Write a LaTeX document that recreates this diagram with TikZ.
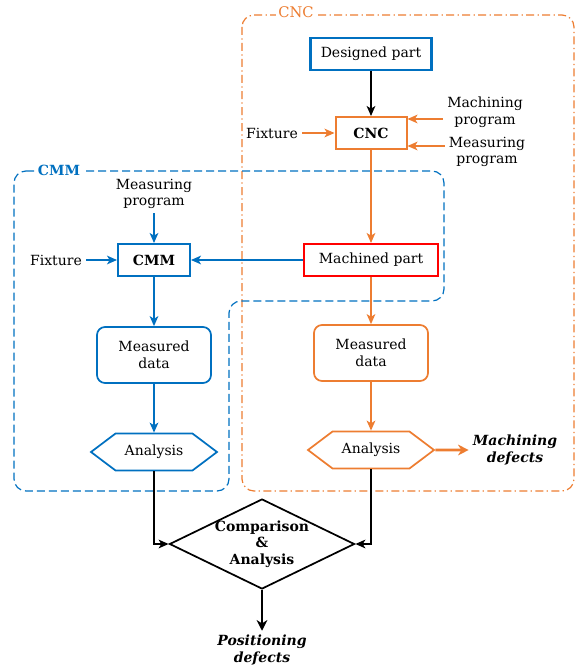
\documentclass[tikz,border=0pt]{standalone}
\usepackage{fontspec}
\setmainfont{DejaVu Serif}
\usetikzlibrary{arrows.meta,shapes.geometric,shapes.symbols}
\definecolor{cmmblue}{HTML}{0070C0}
\definecolor{cncorange}{HTML}{ED7D31}
\definecolor{partred}{HTML}{FF0000}
\newcommand\basefont{\fontsize{10.5}{12.5}\selectfont}

\begin{document}
\begin{tikzpicture}[x=0.75pt,y=-0.75pt,font=\basefont,
    box/.style={draw,rectangle,line width=1.5pt,minimum height=24pt},
    data/.style={draw,rectangle,rounded corners=6pt,line width=1.3pt,
      minimum width=85.5pt,minimum height=42pt,align=center},
    hexa/.style={draw,signal,signal to=east and west,signal pointer angle=74,
      line width=1.3pt,minimum width=94.5pt,minimum height=27.75pt},
    note/.style={align=center,inner sep=3pt},
    result/.style={note,font=\basefont\bfseries\itshape},
    flow/.style={line width=1.3pt,-{Stealth[length=7.5pt,width=6.5pt,inset=2pt]}},
    bigflow/.style={line width=2.2pt,-{Stealth[length=8pt,width=8pt,inset=2.5pt]}},
  ]
  \useasboundingbox (0,0) rectangle (579,667);
  % the two machines
  \draw[cncorange,line width=0.9pt,dash pattern=on 6pt off 2.5pt on 1pt off 2.5pt,
    rounded corners=9pt] (242,15) rectangle (574,491);
  \draw[cmmblue,line width=0.9pt,dash pattern=on 6pt off 3pt,rounded corners=9pt]
    (14,171) -- (444,171) -- (444,301) -- (229,301) -- (229,491) -- (14,491) -- cycle;
  \draw
    (296,12) node[fill=white,text=cncorange,font=\fontsize{11}{13}\selectfont,inner sep=2pt] (cnctitle) {CNC}
    (59,170) node[fill=white,text=cmmblue,font=\basefont\bfseries,inner sep=2pt] (cmmtitle) {CMM};

  \draw
    (371,54) node[box,draw=cmmblue,line width=1.8pt,minimum width=90.75pt] (design) {Designed part}
    (371,133) node[box,draw=cncorange,minimum width=53.25pt,font=\basefont\bfseries] (cnc) {CNC}
    (272,133) node[note] (fixcnc) {Fixture}
    (485,112) node[note] (macprog) {Machining\\program}
    (487,152) node[note] (mesprog) {Measuring\\program}
    (371,260) node[box,draw=partred,minimum width=100.5pt] (machined) {Machined part}
    (154,260) node[box,draw=cmmblue,minimum width=54pt,font=\basefont\bfseries] (cmm) {CMM}
    (154,194) node[note] (mesprogcmm) {Measuring\\program}
    (56,260) node[note] (fixcmm) {Fixture}
    (154,355) node[data,draw=cmmblue] (datacmm) {Measured\\data}
    (371,353) node[data,draw=cncorange] (datacnc) {Measured\\data}
    (154,452) node[hexa,draw=cmmblue] (anacmm) {Analysis}
    (371,450) node[hexa,draw=cncorange] (anacnc) {Analysis}
    (515,450) node[result] (macdef) {Machining\\defects}
    (262,544) node[diamond,draw,line width=1.3pt,minimum width=138.75pt,minimum height=67.5pt,
      aspect=2,inner sep=-4pt,align=center,font=\basefont\bfseries] (cmp) {Comparison\\\&\\Analysis}
    (262,650) node[result] (posdef) {Positioning\\defects};

  \begin{scope}[flow]
    \draw (design) to (cnc);
    \draw (anacmm) |- (cmp);
    \draw (anacnc) |- (cmp);
    \draw[bigflow] (cmp) to (posdef);
  \end{scope}
  \begin{scope}[flow,cncorange]
    \draw (fixcnc) to (cnc);
    \draw (macprog.west |- 0,119) to (cnc.east |- 0,119);
    \draw (mesprog.west |- 0,146) to (cnc.east |- 0,146);
    \draw (cnc) to (machined);
    \draw (machined) to (datacnc);
    \draw (datacnc) to (anacnc);
    \draw[bigflow] (anacnc) to (macdef);
  \end{scope}
  \begin{scope}[flow,cmmblue]
    \draw (mesprogcmm) to (cmm);
    \draw (fixcmm) to (cmm);
    \draw (machined) to (cmm);
    \draw (cmm) to (datacmm);
    \draw (datacmm) to (anacmm);
  \end{scope}
\end{tikzpicture}
\end{document}
